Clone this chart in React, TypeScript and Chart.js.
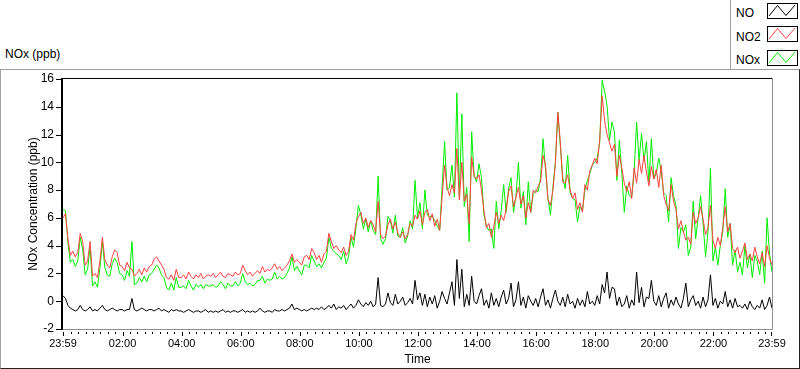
import React, { useEffect, useRef } from 'react';
import { Chart, registerables } from 'chart.js';

Chart.register(...registerables);

// ---- data (5-minute samples starting at 23:59 of the previous day) ----
const STEP_MINUTES = 5;

const NO = [
  0.4, 0.2, -0.3, -0.5, -0.6, -0.7, -0.6, -0.3, -0.6, -0.7, -0.6, -0.4,
  -0.7, -0.6, -0.7, -0.5, -0.3, -0.6, -0.7, -0.6, -0.5, -0.6, -0.7, -0.6,
  -0.6, -0.7, -0.6, -0.6, 0.2, -0.6, -0.7, -0.6, -0.5, -0.6, -0.7, -0.6,
  -0.6, -0.7, -0.6, -0.5, -0.7, -0.6, -0.7, -0.8, -0.6, -0.7, -0.6, -0.7,
  -0.7, -0.8, -0.7, -0.6, -0.7, -0.8, -0.7, -0.7, -0.8, -0.7, -0.6, -0.8,
  -0.7, -0.8, -0.7, -0.8, -0.7, -0.6, -0.8, -0.7, -0.8, -0.7, -0.7, -0.8,
  -0.7, -0.6, -0.8, -0.7, -0.8, -0.7, -0.8, -0.7, -0.5, -0.7, -0.8, -0.7,
  -0.7, -0.8, -0.6, -0.7, -0.7, -0.6, -0.7, -0.6, -0.5, -0.2, -0.6, -0.5,
  -0.6, -0.7, -0.6, -0.7, -0.6, -0.5, -0.6, -0.5, -0.6, -0.4, -0.6, -0.5,
  -0.3, -0.5, -0.2, -0.6, -0.4, -0.5, -0.3, -0.6, -0.4, -0.2, -0.5, -0.3,
  0.1, -0.2, -0.4, -0.1, -0.3, 0.0, -0.4, -0.2, 1.7, -0.3, -0.4, -0.2,
  0.6, -0.1, -0.3, 0.5, -0.2, 0.0, 0.3, -0.3, -0.1, 0.2, -0.2, 1.5,
  0.1, 0.6, -0.3, 0.5, -0.4, 0.3, -0.2, 0.4, -0.5, 0.0, 0.7, 0.2,
  -0.2, 0.6, 1.4, -0.3, 3.0, 0.2, 2.3, -0.4, 0.5, -0.3, 1.8, 0.0,
  -0.2, 0.4, 0.9, -0.3, 0.1, -0.5, 0.6, -0.3, 0.2, -0.4, 0.3, 0.8,
  -0.2, 0.2, 1.3, -0.4, 0.1, 1.4, -0.3, 0.3, -0.5, 0.4, 0.0, -0.3,
  0.2, -0.4, 0.3, 0.9, -0.3, 0.1, -0.5, 0.2, 0.8, 0.0, -0.3, 0.3,
  -0.4, 0.5, -0.2, 0.0, -0.5, 0.2, -0.3, 0.1, -0.4, 0.7, -0.2, 0.0,
  -0.3, 0.4, -0.2, 1.2, 0.6, 2.1, 0.2, 1.0, 0.9, -0.3, 0.3, -0.4,
  -0.2, 0.4, -0.5, 0.1, -0.3, 2.1, -0.1, 1.0, -0.4, 0.3, 0.2, 1.5,
  0.0, -0.3, 0.4, -0.4, 0.2, 0.6, -0.5, 0.1, -0.3, 0.3, -0.2, -0.5,
  0.2, 1.3, -0.4, 0.1, 0.4, -0.3, 0.0, -0.5, 0.3, -0.4, 0.1, 1.9,
  -0.3, 0.2, -0.5, 0.0, -0.2, 0.7, -0.4, 0.1, -0.5, 0.2, -0.4, -0.3,
  -0.5, -0.2, -0.6, 0.0, -0.4, -0.6, -0.3, -0.5, 0.1, -0.6, -0.3, 0.3, -0.5,
];

const NO2 = [
  6.0, 6.3, 4.5, 3.3, 3.6, 3.2, 3.5, 4.9, 4.3, 2.6, 2.9, 4.3,
  1.8, 2.0, 1.7, 2.9, 4.6, 3.0, 2.6, 2.4, 3.2, 3.7, 3.5, 2.6,
  2.5, 2.2, 2.8, 2.4, 2.3, 1.8, 2.0, 2.3, 1.9, 2.4, 2.1, 2.5,
  2.6, 3.0, 3.2, 2.9, 2.6, 2.3, 1.7, 1.6, 1.9, 1.5, 2.3, 1.7,
  1.7, 1.9, 1.6, 2.1, 1.8, 1.6, 1.9, 1.7, 2.0, 1.6, 1.8, 1.9,
  1.8, 2.0, 1.7, 1.9, 2.1, 1.8, 1.7, 2.0, 1.9, 1.8, 2.1, 1.9,
  2.0, 2.6, 2.2, 1.9, 2.1, 1.8, 2.0, 2.2, 2.0, 2.5, 2.1, 2.3,
  2.2, 2.4, 2.7, 2.3, 2.5, 2.2, 2.4, 2.6, 2.9, 3.4, 2.8, 3.0,
  2.8, 2.6, 3.2, 3.3, 3.0, 3.8, 3.5, 3.0, 3.3, 2.8, 3.4, 3.6,
  4.9, 4.3, 3.8, 4.0, 3.7, 3.5, 3.9, 3.3, 3.6, 4.8, 4.4, 5.6,
  6.1, 6.4, 5.6, 6.0, 5.3, 5.8, 5.5, 5.0, 7.2, 4.8, 4.5, 4.7,
  5.5, 5.9, 5.2, 5.7, 4.9, 4.6, 5.0, 4.5, 4.8, 5.6, 5.4, 6.2,
  5.9, 6.5, 5.5, 6.4, 6.6, 5.8, 6.3, 5.4, 5.9, 5.1, 7.5, 9.8,
  8.2, 7.6, 8.4, 7.8, 11.0, 7.3, 10.0, 7.2, 7.7, 5.6, 10.4, 9.0,
  8.8, 9.1, 8.0, 6.5, 5.3, 5.6, 4.6, 5.4, 6.4, 5.6, 6.2, 5.8,
  6.6, 7.9, 8.3, 6.8, 7.5, 8.2, 7.0, 7.6, 6.0, 7.1, 6.4, 8.0,
  7.8, 8.3, 8.6, 10.5, 9.8, 7.3, 6.9, 8.0, 9.9, 13.6, 11.5, 8.6,
  8.5, 9.1, 8.0, 7.4, 7.8, 6.6, 7.1, 6.4, 8.4, 8.0, 9.4, 9.8,
  10.3, 9.9, 11.6, 14.8, 13.0, 12.0, 11.4, 10.8, 11.3, 9.0, 10.5, 9.6,
  8.5, 7.9, 8.6, 7.4, 9.6, 8.5, 10.2, 9.2, 10.5, 9.3, 8.3, 9.7,
  8.8, 9.5, 8.2, 9.8, 7.6, 7.0, 6.5, 8.4, 7.2, 6.6, 5.2, 5.8,
  5.0, 4.4, 4.6, 4.1, 6.4, 5.6, 6.0, 6.8, 5.9, 4.8, 5.3, 6.9,
  4.4, 3.8, 4.6, 4.0, 5.3, 6.8, 5.0, 5.6, 3.8, 3.5, 3.9, 3.1,
  3.6, 4.2, 3.0, 3.4, 2.9, 3.9, 3.2, 2.7, 3.5, 2.5, 4.0, 3.1, 2.6,
];

const NOX = [
  6.6, 6.5, 4.2, 2.8, 3.0, 2.5, 2.9, 4.6, 3.7, 1.9, 2.3, 3.9,
  1.1, 1.4, 1.0, 2.4, 4.3, 2.4, 1.9, 1.8, 2.7, 3.1, 2.8, 2.0,
  1.9, 1.5, 2.2, 1.8, 4.3, 1.2, 1.3, 1.7, 1.4, 1.8, 1.4, 1.9,
  2.0, 2.3, 2.6, 2.4, 1.9, 1.7, 1.0, 0.8, 1.3, 0.8, 1.7, 1.0,
  1.0, 1.1, 0.9, 1.5, 1.1, 0.8, 1.2, 1.0, 1.2, 0.9, 1.2, 1.1,
  1.1, 1.2, 1.0, 1.1, 1.4, 1.2, 0.9, 1.3, 1.1, 1.1, 1.4, 1.1,
  1.3, 2.0, 1.4, 1.2, 1.3, 1.1, 1.2, 1.5, 1.5, 1.8, 1.3, 1.6,
  1.5, 1.6, 2.1, 1.6, 1.8, 1.6, 1.7, 2.0, 2.4, 3.2, 2.2, 2.5,
  2.2, 1.9, 2.6, 2.6, 2.4, 3.3, 2.9, 2.5, 2.7, 2.4, 2.8, 3.1,
  4.6, 3.8, 3.6, 3.4, 3.3, 3.0, 3.6, 2.7, 3.2, 4.6, 3.9, 5.3,
  6.9, 6.2, 5.2, 5.9, 5.0, 5.8, 5.1, 4.8, 9.0, 4.5, 4.1, 4.5,
  6.1, 5.8, 4.9, 6.2, 4.7, 4.6, 5.3, 4.2, 4.7, 5.8, 5.2, 8.7,
  6.0, 7.1, 5.2, 8.0, 6.2, 6.1, 6.1, 5.8, 5.4, 5.1, 8.2, 11.5,
  8.0, 8.2, 9.8, 7.5, 15.0, 7.5, 13.5, 6.8, 8.2, 4.3, 12.2, 9.0,
  8.6, 9.9, 8.9, 6.2, 5.4, 5.1, 5.2, 3.8, 7.2, 5.2, 6.5, 8.4,
  6.4, 8.1, 8.9, 6.4, 7.6, 10.0, 6.7, 7.9, 5.5, 8.6, 6.4, 7.7,
  8.0, 7.9, 8.9, 11.7, 9.5, 7.4, 6.2, 8.2, 10.0, 13.6, 11.2, 8.9,
  8.1, 10.5, 7.8, 7.4, 7.3, 5.7, 6.8, 6.5, 8.0, 8.7, 9.2, 9.8,
  10.0, 10.3, 11.4, 15.9, 15.1, 14.1, 11.6, 12.9, 12.2, 8.7, 11.6, 9.2,
  6.4, 8.3, 7.6, 7.5, 9.3, 12.9, 10.1, 12.1, 10.1, 11.5, 8.5, 11.7,
  8.8, 9.2, 10.3, 9.4, 7.8, 7.6, 5.7, 8.9, 7.6, 6.9, 3.8, 5.3,
  5.0, 5.5, 3.3, 3.9, 7.2, 4.5, 6.0, 7.6, 5.6, 3.2, 5.0, 9.6,
  2.9, 3.9, 2.6, 4.0, 5.0, 8.1, 4.6, 5.6, 2.6, 3.7, 2.1, 2.8,
  1.9, 4.0, 2.4, 3.4, 1.7, 3.3, 2.9, 1.9, 3.6, 1.3, 6.0, 3.4, 2.1,
];

// x ticks: minutes after the 23:59 start, and their labels
const X_TICK_MINUTES = [0, 121, 241, 361, 481, 601, 721, 841, 961, 1081, 1201, 1321, 1440];
const X_TICK_LABELS = ['23:59', '02:00', '04:00', '06:00', '08:00', '10:00', '12:00', '14:00', '16:00', '18:00', '20:00', '22:00', '23:59'];
const X_MINOR_STEP = 15;
const X_MAX = 1440;

const Y_MIN = -2;
const Y_MAX = 16;
const Y_STEP = 2;

const SERIES_NAMES = ['NO', 'NO2', 'NOx'];
const SERIES_COLORS = ['#000000', '#ff4040', '#00ee00'];

const FONT = "'Liberation Sans', Arial, sans-serif";

const toPoints = (arr: number[]) => arr.map((v, i) => ({ x: i * STEP_MINUTES, y: v }));

const framePlugin = {
  id: 'labviewFrame',
  afterDraw(chart: any) {
    const { ctx, chartArea: a, scales } = chart;
    const xs = scales.x;
    const ys = scales.y;
    ctx.save();
    // plot frame
    ctx.fillStyle = '#000';
    ctx.fillRect(a.left - 2, a.top - 1, a.right - a.left + 2, 1);
    ctx.fillRect(a.left - 2, a.top - 1, 2, a.bottom - a.top + 2);
    ctx.fillStyle = '#8f8f8f';
    ctx.fillRect(a.left, a.bottom, a.right - a.left + 1, 1);
    ctx.fillRect(a.right, a.top - 1, 1, a.bottom - a.top + 2);
    // y ticks
    ctx.fillStyle = '#000';
    for (const t of ys.ticks) {
      const py = Math.round(ys.getPixelForValue(t.value));
      ctx.fillRect(a.left - 7, py, 5, 1);
    }
    // x ticks (minor every 15 min, major at labels)
    for (let m = 1; m < X_MAX; m += X_MINOR_STEP) {
      const px = Math.round(xs.getPixelForValue(m));
      ctx.fillRect(px, a.bottom + 3, 1, 2);
    }
    for (const m of X_TICK_MINUTES) {
      const px = Math.round(xs.getPixelForValue(m));
      ctx.fillRect(Math.min(px, a.right - 1), a.bottom + 3, 1, 4);
    }
    ctx.restore();
  },
};

function Swatch({ color }: { color: string }) {
  return (
    <svg width={31} height={16} style={{ display: 'block' }}>
      <rect x={0.5} y={0.5} width={30} height={15} fill="#fff" stroke="#000" strokeWidth={1} />
      <polyline points="2,13 10.5,2.5 19,12.5 28,2" fill="none" stroke={color} strokeWidth={1} />
    </svg>
  );
}

export default function App() {
  const canvasRef = useRef<HTMLCanvasElement | null>(null);

  useEffect(() => {
    const canvas = canvasRef.current;
    if (!canvas) return;
    const chart = new Chart(canvas, {
      type: 'line',
      data: {
        datasets: [
          { label: SERIES_NAMES[0], data: toPoints(NO), borderColor: SERIES_COLORS[0], borderWidth: 1, pointRadius: 0, fill: false },
          { label: SERIES_NAMES[1], data: toPoints(NO2), borderColor: SERIES_COLORS[1], borderWidth: 1, pointRadius: 0, fill: false },
          { label: SERIES_NAMES[2], data: toPoints(NOX), borderColor: SERIES_COLORS[2], borderWidth: 1, pointRadius: 0, fill: false },
        ],
      },
      options: {
        animation: false,
        responsive: false,
        maintainAspectRatio: false,
        events: [],
        elements: { line: { tension: 0 } },
        layout: { padding: { left: 0, top: 79, right: 28, bottom: 0 } },
        plugins: { legend: { display: false }, tooltip: { enabled: false }, title: { display: false } },
        scales: {
          x: {
            type: 'linear',
            min: 0,
            max: X_MAX,
            afterBuildTicks: (scale: any) => {
              scale.ticks = X_TICK_MINUTES.map((v) => ({ value: v }));
            },
            afterFit: (scale: any) => {
              scale.height = 40;
            },
            ticks: {
              autoSkip: false,
              maxRotation: 0,
              minRotation: 0,
              padding: 8,
              color: '#000',
              font: { family: FONT, size: 11 },
              callback: (value: any) => {
                const i = X_TICK_MINUTES.indexOf(Number(value));
                return i >= 0 ? X_TICK_LABELS[i] : '';
              },
            },
            grid: { display: false, drawTicks: false },
            border: { display: false },
            title: {
              display: true,
              text: 'Time',
              color: '#000',
              font: { family: FONT, size: 12 },
              padding: { top: 0, bottom: 2 },
            },
          },
          y: {
            type: 'linear',
            min: Y_MIN,
            max: Y_MAX,
            afterFit: (scale: any) => {
              scale.width = 63;
            },
            ticks: {
              stepSize: Y_STEP,
              padding: 9,
              color: '#000',
              font: { family: FONT, size: 12 },
            },
            grid: { display: false, drawTicks: false },
            border: { display: false },
            title: {
              display: true,
              text: 'NOx Concentration (ppb)',
              color: '#000',
              font: { family: FONT, size: 12 },
              padding: { top: 26, bottom: 0 },
            },
          },
        },
      },
      plugins: [framePlugin],
    } as any);
    return () => chart.destroy();
  }, []);

  return (
    <div style={{ position: 'absolute', left: 0, top: 0, width: 800, height: 369, background: '#fff', overflow: 'hidden', fontFamily: FONT }}>
      {/* panel border */}
      <div
        style={{
          position: 'absolute', left: 0, top: 69, width: 800, height: 300, boxSizing: 'border-box',
          borderTop: '1px solid #a0a0a0', borderLeft: '1px solid #a0a0a0',
          borderRight: '1px solid #202020', borderBottom: '1px solid #202020',
        }}
      />
      <div style={{ position: 'absolute', left: 5, top: 47, fontSize: 12, lineHeight: '14px', color: '#000', whiteSpace: 'nowrap' }}>
        NOx (ppb)
      </div>
      <canvas ref={canvasRef} width={800} height={369} style={{ position: 'absolute', left: 0, top: 0, width: 800, height: 369 }} />
      {/* legend */}
      <div style={{ position: 'absolute', left: 730, top: 0, width: 70, height: 69, borderLeft: '1px solid #a0a0a0', boxSizing: 'border-box', background: '#fff' }}>
        {SERIES_NAMES.map((name, i) => (
          <React.Fragment key={name}>
            <div style={{ position: 'absolute', left: 5, top: 6 + i * 23.5, fontSize: 12, lineHeight: '14px', color: '#000', whiteSpace: 'nowrap' }}>{name}</div>
            <div style={{ position: 'absolute', left: 36, top: 3 + i * 23.3 }}>
              <Swatch color={SERIES_COLORS[i]} />
            </div>
          </React.Fragment>
        ))}
      </div>
    </div>
  );
}
